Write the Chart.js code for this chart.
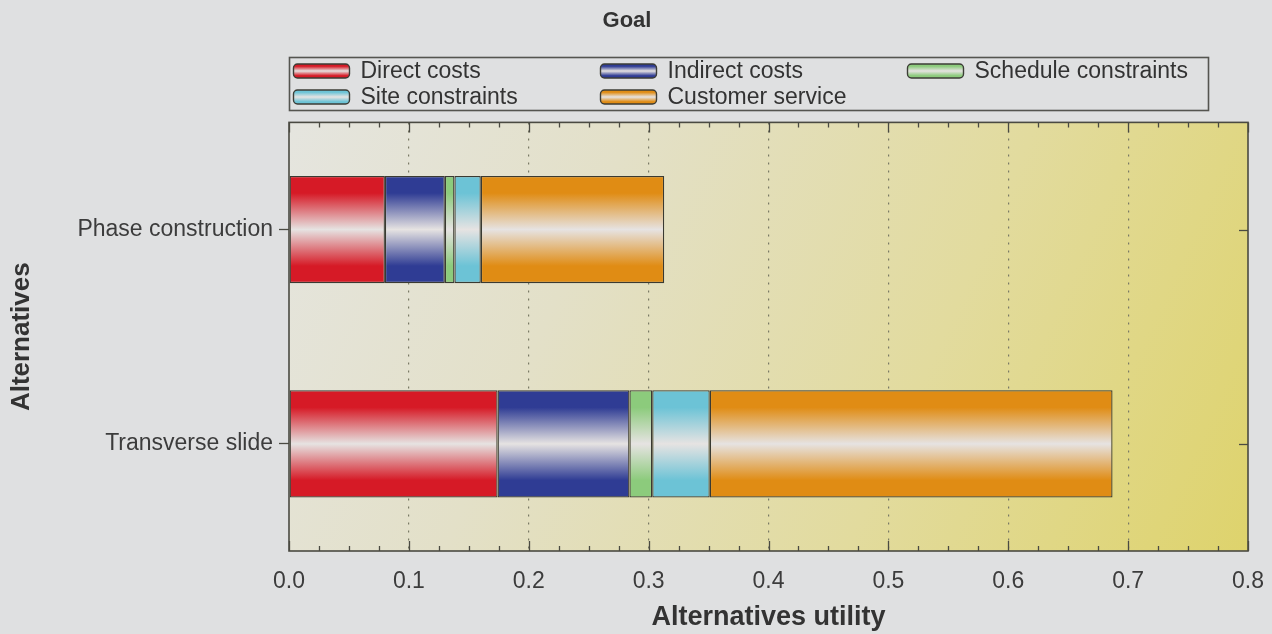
<!DOCTYPE html>
<html>
<head>
<meta charset="utf-8">
<script src="https://cdn.jsdelivr.net/npm/chart.js@4/dist/chart.umd.min.js"></script>
<style>
  html, body { margin: 0; padding: 0; background: #dfe0e1; }
  #wrap { width: 1272px; height: 634px; }
</style>
</head>
<body>
<div id="wrap"><canvas id="c" width="1272" height="634"></canvas></div>
<script>
// Alternatives and their utility contributions per criterion
const alternatives = ['Phase construction', 'Transverse slide'];
const directCosts = [0.080, 0.174];
const indirectCosts = [0.050, 0.110];
const scheduleConstraints = [0.008, 0.019];
const siteConstraints = [0.022, 0.048];
const customerService = [0.153, 0.336];

const seriesNames = ['Direct costs', 'Indirect costs', 'Schedule constraints', 'Site constraints', 'Customer service'];
const seriesValues = [directCosts, indirectCosts, scheduleConstraints, siteConstraints, customerService];
const seriesColors = ['#d61a26', '#2f3c94', '#8ccb7c', '#6cc3d6', '#e08c14'];

const FONT = '"Liberation Sans", Arial, Helvetica, sans-serif';
const TEXT = '#333333';
const BAR_FRACTION = 0.5;

// glossy vertical gradient: solid colour at the edges, pale in the middle
function glossGradient(ctx, top, bottom, color) {
  const g = ctx.createLinearGradient(0, top, 0, bottom);
  g.addColorStop(0, color);
  g.addColorStop(0.16, color);
  g.addColorStop(0.5, '#e6e3e2');
  g.addColorStop(0.84, color);
  g.addColorStop(1, color);
  return g;
}

function barFill(color) {
  return (context) => {
    const chart = context.chart;
    const yScale = chart.scales.y;
    if (!chart.chartArea || !yScale) return color;
    const center = yScale.getPixelForValue(context.dataIndex);
    const band = Math.abs(yScale.getPixelForValue(1) - yScale.getPixelForValue(0));
    const half = band * BAR_FRACTION / 2;
    return glossGradient(chart.ctx, center - half, center + half, color);
  };
}

// plot background, frame, inner tick marks and the boxed legend
const decorations = {
  id: 'decorations',
  beforeDraw(chart) {
    const { ctx, chartArea: a } = chart;
    ctx.save();
    ctx.fillStyle = '#dfe0e1';
    ctx.fillRect(0, 0, chart.width, chart.height);
    const g = ctx.createLinearGradient(a.left, a.top, a.right, a.bottom);
    g.addColorStop(0, '#e5e5df');
    g.addColorStop(0.3, '#e3e0c8');
    g.addColorStop(0.65, '#e2db9e');
    g.addColorStop(1, '#ded36c');
    ctx.fillStyle = g;
    ctx.fillRect(a.left, a.top, a.right - a.left, a.bottom - a.top);
    ctx.restore();
  },
  afterDatasetsDraw(chart) {
    const { ctx, chartArea: a, scales } = chart;
    ctx.save();
    ctx.strokeStyle = '#4a4a42';
    ctx.lineWidth = 1.3;
    // minor/major tick marks on top and bottom edges
    for (let i = 0; i <= 32; i++) {
      const x = Math.round(scales.x.getPixelForValue(i * 0.025)) + 0.5;
      const len = i % 4 === 0 ? 10 : 5;
      ctx.beginPath();
      ctx.moveTo(x, a.top); ctx.lineTo(x, a.top + len);
      ctx.moveTo(x, a.bottom); ctx.lineTo(x, a.bottom - len);
      ctx.stroke();
    }
    // category tick marks on the right edge
    alternatives.forEach((_, i) => {
      const y = Math.round(scales.y.getPixelForValue(i)) + 0.5;
      ctx.beginPath();
      ctx.moveTo(a.right, y); ctx.lineTo(a.right - 9, y);
      ctx.stroke();
    });
    // frame
    ctx.lineWidth = 1.6;
    ctx.strokeRect(a.left, a.top, a.right - a.left, a.bottom - a.top);
    ctx.restore();
  },
  afterDraw(chart) {
    const { ctx } = chart;
    const left = chart.chartArea.left;
    const box = { x: left + 0.5, y: 57.5, w: 919, h: 53 };
    ctx.save();
    ctx.strokeStyle = '#555550';
    ctx.lineWidth = 1.6;
    ctx.strokeRect(box.x, box.y, box.w, box.h);
    const colX = [box.x + 4, box.x + 311, box.x + 618];
    const rowY = [71, 97];
    ctx.font = '23px ' + FONT;
    ctx.textBaseline = 'middle';
    chart.data.datasets.forEach((ds, i) => {
      const x = colX[i % 3];
      const y = rowY[Math.floor(i / 3)];
      const sw = 56, sh = 14;
      ctx.beginPath();
      ctx.roundRect(x, y - sh / 2, sw, sh, 4);
      ctx.fillStyle = glossGradient(ctx, y - sh / 2, y + sh / 2, seriesColors[i]);
      ctx.fill();
      ctx.strokeStyle = '#3c3c36';
      ctx.lineWidth = 1.4;
      ctx.stroke();
      ctx.fillStyle = TEXT;
      ctx.fillText(ds.label, x + 67, y + 1);
    });
    ctx.restore();
  }
};

new Chart(document.getElementById('c'), {
  type: 'bar',
  data: {
    labels: alternatives,
    datasets: seriesNames.map((name, i) => ({
      label: name,
      data: seriesValues[i],
      backgroundColor: barFill(seriesColors[i]),
      borderColor: '#3a3a32',
      borderWidth: 1.3,
      borderSkipped: false,
      barPercentage: BAR_FRACTION,
      categoryPercentage: 1
    }))
  },
  options: {
    indexAxis: 'y',
    responsive: false,
    animation: false,
    layout: { padding: { left: 6, right: 24, top: 0, bottom: 0 } },
    plugins: {
      legend: { display: false },
      tooltip: { enabled: false },
      title: {
        display: true,
        text: 'Goal',
        color: TEXT,
        font: { family: FONT, size: 22, weight: 'bold' },
        padding: { top: 8, bottom: 88 }
      }
    },
    scales: {
      x: {
        stacked: true,
        min: 0,
        max: 0.8,
        afterFit: (s) => { s.height = 83; s.paddingRight = 0; s.paddingLeft = 0; },
        ticks: {
          stepSize: 0.1,
          color: '#3c3c3c',
          font: { family: FONT, size: 23 },
          padding: 17,
          callback: (v) => Number(v).toFixed(1)
        },
        grid: {
          drawTicks: false,
          lineWidth: 1.2,
          color: (c) => (c.index === 0 || c.index === 8) ? 'rgba(0,0,0,0)' : '#7a7a66'
        },
        border: { display: false, dash: [2, 6] },
        title: {
          display: true,
          text: 'Alternatives utility',
          color: TEXT,
          font: { family: FONT, size: 27, weight: 'bold' },
          padding: { top: 0, bottom: 0 }
        }
      },
      y: {
        stacked: true,
        afterFit: (s) => { s.width = 283; },
        ticks: {
          color: '#3c3c3c',
          font: { family: FONT, size: 23 },
          padding: 6
        },
        grid: {
          offset: false,
          drawOnChartArea: false,
          drawTicks: true,
          tickLength: 10,
          tickColor: '#4a4a42',
          tickWidth: 1.3
        },
        border: { display: false },
        title: {
          display: true,
          text: 'Alternatives',
          color: TEXT,
          font: { family: FONT, size: 26, weight: 'bold' },
          padding: { top: 0, bottom: 0 }
        }
      }
    }
  },
  plugins: [decorations]
});
</script>
</body>
</html>
